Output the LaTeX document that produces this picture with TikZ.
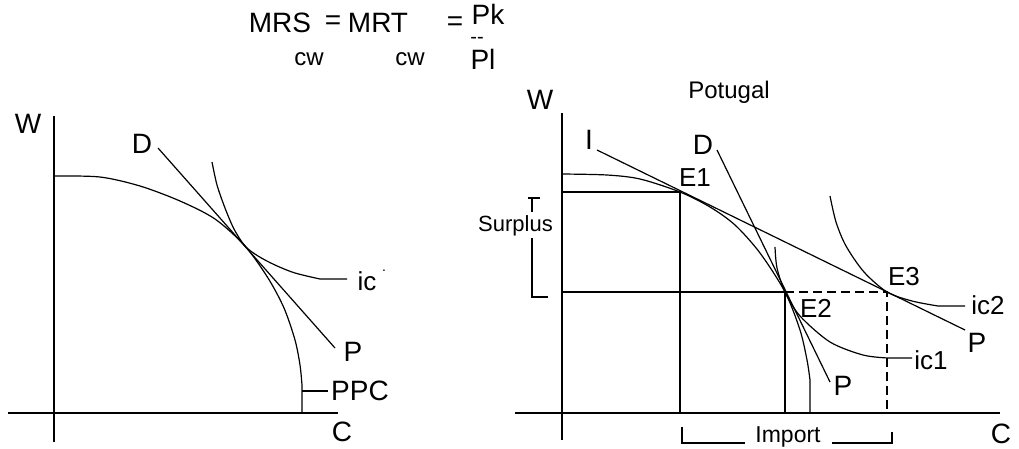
\documentclass[tikz,border=0pt]{standalone}
\usepackage{fontspec}
\setmainfont{Liberation Sans}
\begin{document}
\begin{tikzpicture}[x=1pt,y=-1pt,
  lbl/.style={font=\fontsize{28}{30}\selectfont, inner sep=0pt},
  elbl/.style={font=\fontsize{26}{28}\selectfont, inner sep=0pt},
  sub/.style={font=\fontsize{24}{26}\selectfont, inner sep=0pt},
  axis/.style={line width=1.7pt},
  curve/.style={line width=1.2pt},
  grid/.style={line width=1.5pt},
  dline/.style={line width=1.4pt, dash pattern=on 9pt off 5pt}]
\useasboundingbox (0,0) rectangle (1019,448);

% ---------- formula ----------
\node[lbl] (mrs) at (280,23) {MRS};
\node[sub] (cw1) at (309,59) {cw};
\node[lbl] (eq1) at (333,23) {=};
\node[lbl] (mrt) at (378,23) {MRT};
\node[sub] (cw2) at (410,59) {cw};
\node[lbl] (eq2) at (455,24) {=};
\node[lbl] (pk) at (488,14) {Pk};
\node[inner sep=0pt, font=\fontsize{20}{20}\selectfont] (bar) at (477,40) {-{}-};
\node[lbl] (pl) at (483,59) {Pl};

% ---------- left graph ----------
\coordinate (LWt) at (54,116);
\coordinate (LWb) at (54,442);
\coordinate (LCl) at (8,413);
\coordinate (LCr) at (338,413);
\draw[axis] (LWt) -- (LWb);
\draw[axis] (LCl) -- (LCr);
\node[lbl] (LW) at (28,124) {W};
\node[lbl] (LC) at (342,432) {C};

% PPC
\coordinate (LPb) at (302,413);
\draw[curve] plot[smooth] coordinates {(54,176) (100,177) (140,186) (180,201) (215,219) (245,246) (268,278) (284,308) (295,340) (300,365) (302,385)} -- (LPb);
\coordinate (LPt) at (302,391);
\coordinate (LPt2) at (328,391);
\draw[curve] (LPt) -- (LPt2);
\node[lbl, anchor=west] (LPPC) at (331,391) {PPC};

% D--P line
\coordinate (LD) at (158,148);
\coordinate (LP) at (335,348);
\draw[curve] (LD) -- (LP);
\node[lbl] (LDl) at (142,144) {D};
\node[lbl] (LPl) at (353,352) {P};

% ic
\draw[curve] plot[smooth] coordinates {(212,162) (217,185) (225,208) (234,229) (245,246) (258,256) (275,265) (295,273) (320,279)} -- (347,279);
\node[elbl] (Lic) at (367,281) {ic};
\node[inner sep=0pt, font=\fontsize{14}{14}\selectfont] (Licd) at (384,271) {.};

% ---------- right graph ----------
\coordinate (RWt) at (562,113);
\coordinate (RWb) at (562,440);
\coordinate (RCl) at (515,413);
\coordinate (RCr) at (1000,413);
\draw[axis] (RWt) -- (RWb);
\draw[axis] (RCl) -- (RCr);
\node[lbl] (RW) at (540,100) {W};
\node[lbl] (RC) at (1001,434) {C};
\node[inner sep=0pt, font=\fontsize{24}{26}\selectfont] (title) at (729,92) {Potugal};

\coordinate (E1) at (680,192);
\coordinate (E2) at (785,292);
\coordinate (E3) at (887,292);
\coordinate (Y1) at (562,192);
\coordinate (Y2) at (562,292);
\coordinate (X1) at (680,413);
\coordinate (X2) at (785,413);
\coordinate (X3) at (887,413);

% PPC
\draw[curve] plot[smooth] coordinates {(562,174) (607,175) (640,179) (680,192) (710,207) (735,225) (760,253) (785,292) (800,330) (807,360) (810,380)} -- (810,413);

% grid lines
\draw[grid] (Y1) -- (E1) -- (X1);
\draw[grid] (Y2) -- (E2) -- (X2);
\draw[dline] (E2) -- (E3) -- (X3);

% I--P line
\coordinate (RI) at (597,150);
\coordinate (RP1) at (965,330);
\draw[curve] (RI) -- (RP1);
\node[lbl] (RIl) at (589,140) {I};
\node[lbl] (RP1l) at (977,343) {P};

% D--P line
\coordinate (RD) at (717,150);
\coordinate (RP2) at (830,382);
\draw[curve] (RD) -- (RP2);
\node[lbl] (RDl) at (703,145) {D};
\node[lbl] (RP2l) at (843,386) {P};

% ic1
\draw[curve] plot[smooth] coordinates {(775,247) (777,268) (785,292) (800,316) (830,342) (863,355) (888,358)} -- (912,358);
\node[elbl] (ic1) at (931,360) {ic1};

% ic2
\draw[curve] plot[smooth] coordinates {(830,196) (836,222) (846,246) (864,272) (887,292) (912,301) (938,306)} -- (965,306);
\node[elbl] (ic2) at (988,305) {ic2};

% E labels
\node[elbl] (E1l) at (695,178) {E1};
\node[elbl] (E2l) at (816,308) {E2};
\node[elbl] (E3l) at (904,277) {E3};

% Surplus bracket
\coordinate (S1) at (528,198);
\coordinate (S2) at (540,198);
\coordinate (S3) at (532,198);
\coordinate (S4) at (532,212);
\coordinate (S5) at (532,238);
\coordinate (S6) at (532,297);
\coordinate (S7) at (548,297);
\draw[grid] (S1) -- (S2);
\draw[grid] (S3) -- (S4);
\draw[grid] (S5) -- (S6) -- (S7);
\node[inner sep=0pt, font=\fontsize{22}{24}\selectfont, anchor=east] (surplus) at (553,226) {Surplus};

% Import bracket
\coordinate (I1) at (682,427);
\coordinate (I2) at (682,443);
\coordinate (I3) at (745,443);
\coordinate (I4) at (832,443);
\coordinate (I5) at (892,443);
\coordinate (I6) at (892,432);
\draw[grid] (I1) -- (I2) -- (I3);
\draw[grid] (I4) -- (I5) -- (I6);
\node[inner sep=0pt, font=\fontsize{23}{25}\selectfont] (import) at (788,437) {Import};
\end{tikzpicture}
\end{document}
